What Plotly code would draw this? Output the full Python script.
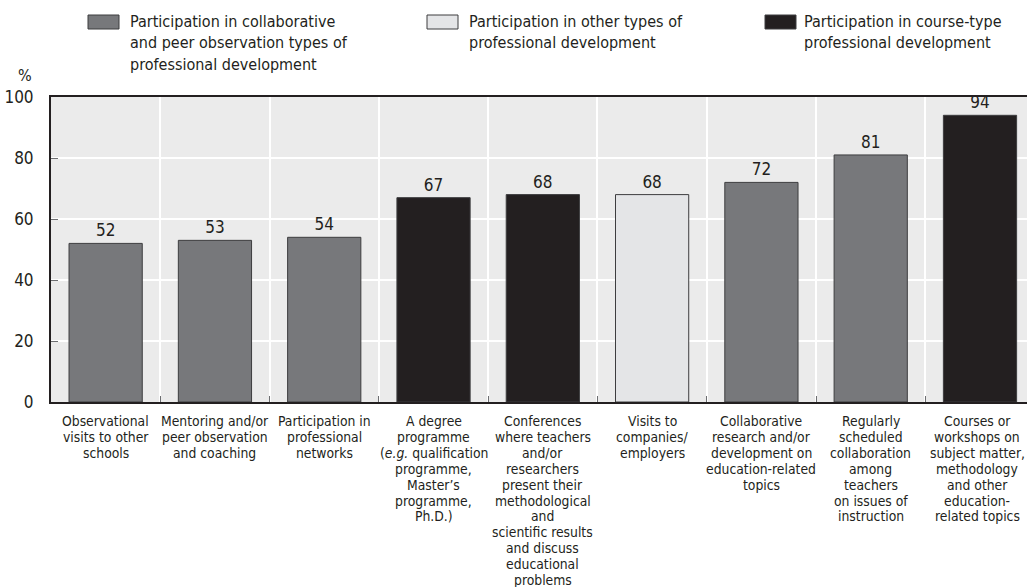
import plotly.graph_objects as go

# ---- data -------------------------------------------------------------
categories = [
    "Observational visits to other schools",
    "Mentoring and/or peer observation and coaching",
    "Participation in professional networks",
    "A degree programme",
    "Conferences",
    "Visits to companies/employers",
    "Collaborative research and/or development",
    "Regularly scheduled collaboration",
    "Courses or workshops",
]
values = [52, 53, 54, 67, 68, 68, 72, 81, 94]
pd_types = ["collab", "collab", "collab", "course", "course", "other",
            "collab", "collab", "course"]

tick_label_lines = [
    ["Observational", "visits to other", "schools"],
    ["Mentoring and/or", "peer observation", "and coaching"],
    ["Participation in", "professional", "networks"],
    ["A degree", "programme", "(<i>e.g.</i> qualification", "programme,",
     "Master’s", "programme,", "Ph.D.)"],
    ["Conferences", "where teachers", "and/or", "researchers", "present their",
     "methodological", "and", "scientific results", "and discuss",
     "educational", "problems"],
    ["Visits to", "companies/", "employers"],
    ["Collaborative", "research and/or", "development on",
     "education-related", "topics"],
    ["Regularly", "scheduled", "collaboration", "among", "teachers",
     "on issues of", "instruction"],
    ["Courses or", "workshops on", "subject matter,", "methodology",
     "and other", "education-", "related topics"],
]

legend_order = ["collab", "other", "course"]
legend_lines = {
    "collab": ["Participation in collaborative",
               "and peer observation types of",
               "professional development"],
    "other": ["Participation in other types of",
              "professional development"],
    "course": ["Participation in course-type",
               "professional development"],
}
y_ticks = [0, 20, 40, 60, 80, 100]

# ---- styling ----------------------------------------------------------
W, H = 1027, 587
ML, MR, MT, MB = 51, 0, 97, 185
PW, PH = W - ML - MR, H - MT - MB

FONT = "DejaVu Sans Condensed, Liberation Sans Narrow, Arial Narrow, sans-serif"
INK = "#231f20"
TICK = "#6d6e71"
colors = {"collab": "#77787b", "other": "#e4e5e7", "course": "#231f20"}


def paper_x(px):
    return (px - ML) / PW


def paper_y(py):
    return (H - MB - py) / PH


fig = go.Figure(
    go.Bar(
        x=categories,
        y=values,
        width=0.67,
        marker=dict(color=[colors[t] for t in pd_types],
                    line=dict(color="#3d3d3f", width=1)),
        texttemplate="%{y}",
        textposition="outside",
        constraintext="none",
        textfont=dict(family=FONT, size=17, color=INK),
        cliponaxis=False,
        showlegend=False,
    )
)

annotations = []

# multi-line category labels under the axis, tight line spacing
last = len(categories) - 1
for i, (cat, lines) in enumerate(zip(categories, tick_label_lines)):
    for j, line in enumerate(lines):
        annotations.append(dict(
            x=cat, xref="x", y=0, yref="paper",
            yanchor="middle", xanchor="center",
            xshift=-3 if i == last else 0,
            yshift=-(19 + j * 15.9),
            text=line, showarrow=False,
            font=dict(family=FONT, size=13.8, color=INK),
        ))

# legend: swatches and wrapped labels across the top
shapes = []
swatch_left = [88, 427, 765]
text_left = [128, 467, 802]
for key, sx, tx in zip(legend_order, swatch_left, text_left):
    shapes.append(dict(
        type="rect", xref="paper", yref="paper",
        x0=paper_x(sx), x1=paper_x(sx + 31),
        y0=paper_y(29), y1=paper_y(15),
        fillcolor=colors[key], line=dict(color="#3d3d3f", width=1),
    ))
    for j, line in enumerate(legend_lines[key]):
        annotations.append(dict(
            x=paper_x(tx), xref="paper", xanchor="left",
            y=paper_y(22 + j * 21), yref="paper", yanchor="middle",
            text=line, showarrow=False,
            font=dict(family=FONT, size=16, color=INK),
        ))

# unit label above the value axis
annotations.append(dict(
    x=paper_x(34), xref="paper", xanchor="right",
    y=paper_y(75), yref="paper", yanchor="middle",
    text="%", showarrow=False,
    font=dict(family=FONT, size=16, color=INK),
))

fig.update_layout(
    width=W, height=H,
    margin=dict(l=ML, r=MR, t=MT, b=MB, pad=0),
    paper_bgcolor="white",
    plot_bgcolor="#ebebeb",
    font=dict(family=FONT, color=INK),
    annotations=annotations,
    shapes=shapes,
    bargap=0.33,
)

fig.update_xaxes(
    type="category",
    range=[-0.5, 8.43],
    tickson="boundaries",
    showgrid=True, gridcolor="white", gridwidth=1.5,
    ticks="inside", ticklen=6, tickcolor=TICK, tickwidth=1,
    showticklabels=False,
    showline=True, linecolor=INK, linewidth=2, mirror=True,
    fixedrange=True,
)

fig.update_yaxes(
    range=[0, 100],
    tickvals=y_ticks,
    showgrid=True, gridcolor="white", gridwidth=1.5,
    ticks="inside", ticklen=7, tickcolor=TICK, tickwidth=1,
    tickfont=dict(family=FONT, size=17, color=INK),
    ticklabelstandoff=12,
    showline=True, linecolor=INK, linewidth=2,
    zeroline=False,
    fixedrange=True,
)

fig.write_html("out.html")
